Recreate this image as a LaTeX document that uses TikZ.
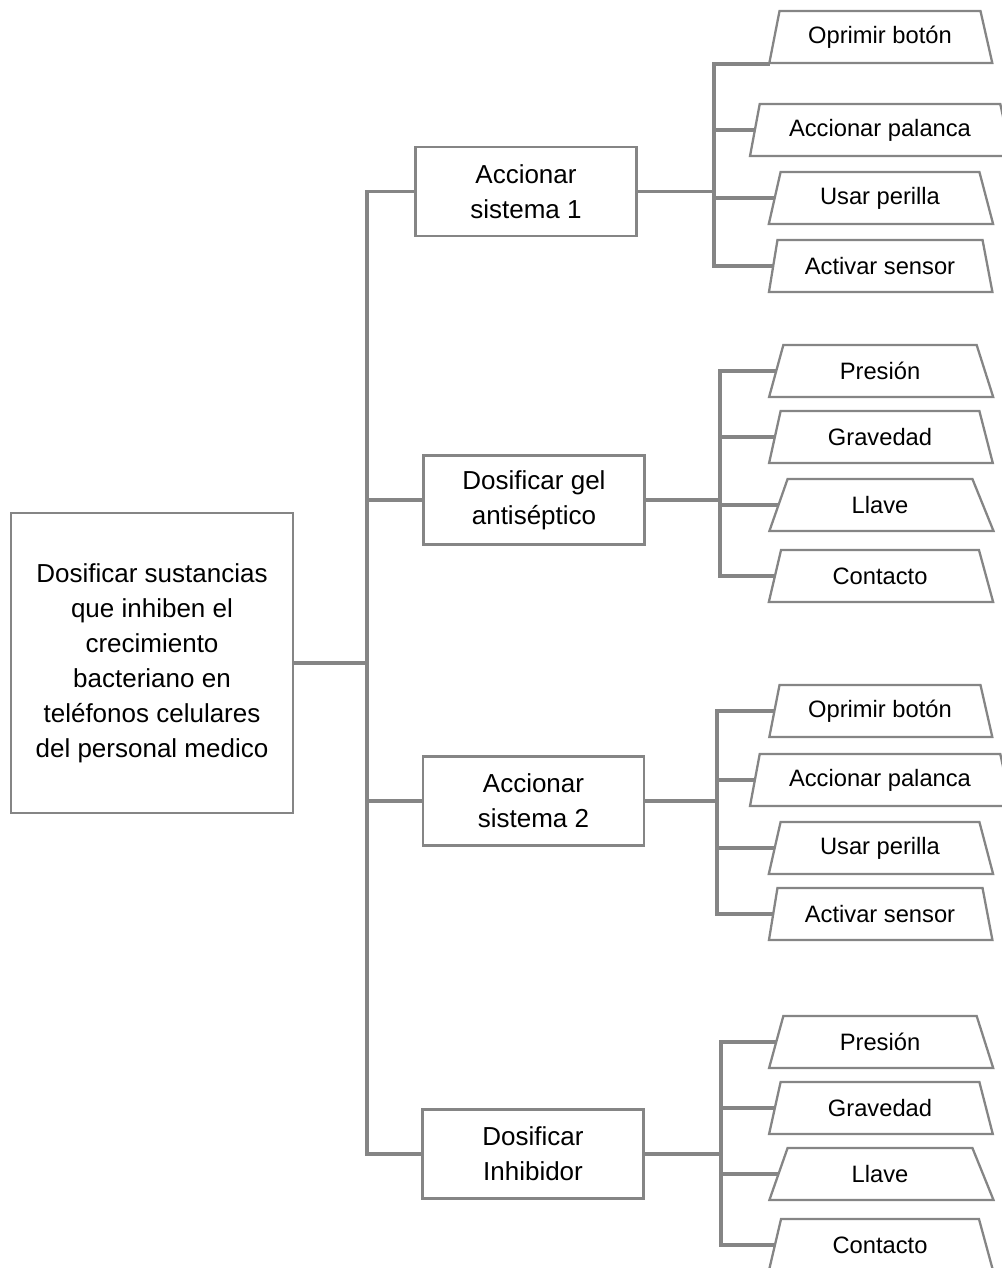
\documentclass[tikz,border=0pt]{standalone}
\usepackage{fontspec}
\setmainfont{Liberation Sans}
\usetikzlibrary{shapes.geometric,positioning,backgrounds}
\definecolor{linegray}{HTML}{858585}

\begin{document}
\begin{tikzpicture}[
  x=0.02cm, y=-0.02cm,
  box/.style={rectangle, draw=linegray, line width=1.3pt, fill=white,
              align=center, font=\fontsize{14.8}{19.9}\selectfont},
  goal/.style={box, minimum width=5.64cm, minimum height=6cm},
  task/.style={box, minimum width=4.42cm, minimum height=1.78cm},
  leaf/.style={trapezium, trapezium left angle=77, trapezium right angle=75,
               trapezium stretches=true, draw=linegray, line width=1.3pt,
               fill=white, minimum width=4.5cm, minimum height=1.04cm,
               font=\fontsize{13.5}{16}\selectfont},
  wideleaf/.style={leaf, minimum width=5.24cm},
  link/.style={draw=linegray, line width=2pt, line cap=rect},
]
  \useasboundingbox (0,0) rectangle (1001,1268);

  % main function
  \node[goal] (goal) at (152,663)
    {Dosificar sustancias\\que inhiben el\\crecimiento\\bacteriano en\\teléfonos celulares\\del personal medico};

  % sub functions
  \node[task] (sis1) at (526,191.5) {Accionar\\sistema 1};
  \node[task] (gel)  at (534,500)   {Dosificar gel\\antiséptico};
  \node[task] (sis2) at (533.5,801) {Accionar\\sistema 2};
  \node[task] (inh)  at (533,1154)  {Dosificar\\Inhibidor};

  % solutions
  \foreach \n/\y/\t in {ob1/37/Oprimir botón, up1/198/Usar perilla,
      as1/266/Activar sensor, pr2/371/Presión, gr2/437/Gravedad,
      ll2/505/Llave, co2/576/Contacto, ob3/711/Oprimir botón,
      up3/848/Usar perilla, as3/914/Activar sensor, pr4/1042/Presión,
      gr4/1108/Gravedad, ll4/1174/Llave, co4/1245/Contacto}
    \node[leaf] (\n) at (880,\y) {\t};
  \node[wideleaf] (ap1) at (880,130) {Accionar palanca};
  \node[wideleaf] (ap3) at (880,780) {Accionar palanca};

  \coordinate (tr) at (367,0);
  \coordinate (j1) at (714,0);
  \coordinate (j2) at (720,0);
  \coordinate (j3) at (717,0);
  \coordinate (j4) at (721,0);

  \begin{scope}[on background layer]
    \draw[link] (goal.east) -- (goal.east -| tr);
    \draw[link] (tr |- sis1.west) -- (tr |- inh.west);
    \foreach \t in {sis1, gel, sis2, inh}
      \draw[link] (tr |- \t.west) -- (\t.west);

    % first group
    \draw[link] (sis1.east) -- (sis1.east -| j1);
    \draw[link] (j1 |- ob1.bottom left corner) -- (j1 |- as1.west);
    \draw[link] (j1 |- ob1.bottom left corner) -- (ob1.bottom left corner);
    \foreach \l in {ap1, up1, as1}
      \draw[link] (j1 |- \l.west) -- (\l.west);

    % second group
    \draw[link] (gel.east) -- (gel.east -| j2);
    \draw[link] (j2 |- pr2.west) -- (j2 |- co2.west);
    \foreach \l in {pr2, gr2, ll2, co2}
      \draw[link] (j2 |- \l.west) -- (\l.west);

    % third group
    \draw[link] (sis2.east) -- (sis2.east -| j3);
    \draw[link] (j3 |- ob3.west) -- (j3 |- as3.west);
    \foreach \l in {ob3, ap3, up3, as3}
      \draw[link] (j3 |- \l.west) -- (\l.west);

    % fourth group
    \draw[link] (inh.east) -- (inh.east -| j4);
    \draw[link] (j4 |- pr4.west) -- (j4 |- co4.west);
    \foreach \l in {pr4, gr4, ll4, co4}
      \draw[link] (j4 |- \l.west) -- (\l.west);
  \end{scope}
\end{tikzpicture}
\end{document}
